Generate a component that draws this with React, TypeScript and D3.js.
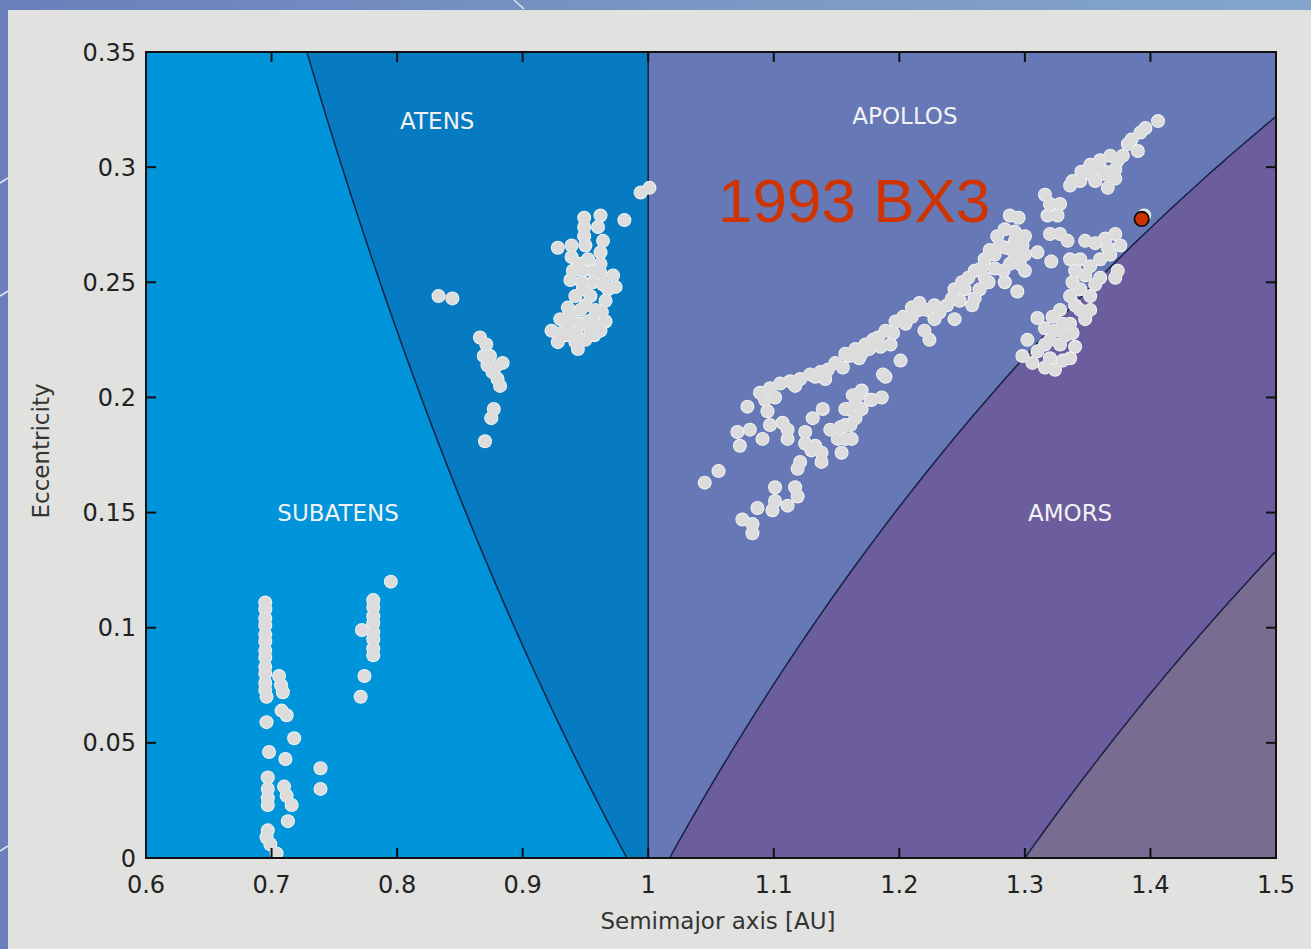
import React from "react";
import * as d3 from "d3";

const xTicks = [0.6, 0.7, 0.8, 0.9, 1, 1.1, 1.2, 1.3, 1.4, 1.5];
const xTickLabels = ["0.6", "0.7", "0.8", "0.9", "1", "1.1", "1.2", "1.3", "1.4", "1.5"];
const yTicks = [0, 0.05, 0.1, 0.15, 0.2, 0.25, 0.3, 0.35];
const yTickLabels = ["0", "0.05", "0.1", "0.15", "0.2", "0.25", "0.3", "0.35"];

// perihelion / aphelion limits (AU) of the NEO groups
const Q_ATEN = 0.983;
const Q_APOLLO = 1.017;
const Q_AMOR = 1.3;

const regionNames = ["SUBATENS", "ATENS", "APOLLOS", "AMORS"];
const regionLabelA = [0.753, 0.832, 1.2045, 1.336];
const regionLabelE = [0.15, 0.32, 0.3225, 0.15];

const highlightName = "1993 BX3";
const highlightA = 1.393;
const highlightE = 0.2775;

const subatensNEOs: [number, number][] = [
  [0.695, 0.111], [0.695, 0.108], [0.695, 0.104], [0.695, 0.101], [0.695, 0.097],
  [0.695, 0.094], [0.695, 0.09], [0.695, 0.087], [0.695, 0.083], [0.695, 0.08],
  [0.695, 0.076], [0.695, 0.073], [0.696, 0.07],
  [0.706, 0.079], [0.7075, 0.075], [0.709, 0.072],
  [0.708, 0.064], [0.712, 0.062], [0.696, 0.059], [0.718, 0.052],
  [0.698, 0.046], [0.711, 0.043], [0.739, 0.039], [0.739, 0.03],
  [0.697, 0.035], [0.697, 0.03], [0.697, 0.026], [0.697, 0.023],
  [0.71, 0.031], [0.712, 0.027], [0.716, 0.023], [0.713, 0.016],
  [0.697, 0.012], [0.696, 0.009], [0.699, 0.006], [0.704, 0.002],
  [0.795, 0.12],
  [0.781, 0.112], [0.781, 0.109], [0.781, 0.105], [0.781, 0.102], [0.781, 0.098],
  [0.781, 0.095], [0.781, 0.091], [0.781, 0.088],
  [0.772, 0.099], [0.774, 0.079], [0.771, 0.07],
];

const atensNEOs: [number, number][] = [
  [0.833, 0.244], [0.844, 0.243],
  [0.866, 0.226], [0.871, 0.223], [0.869, 0.218], [0.872, 0.214], [0.876, 0.211],
  [0.884, 0.215], [0.88, 0.208], [0.882, 0.205], [0.874, 0.218], [0.878, 0.213],
  [0.877, 0.195], [0.875, 0.191], [0.87, 0.181],
  [0.949, 0.278], [0.949, 0.274], [0.949, 0.27], [0.962, 0.279], [0.96, 0.274],
  [0.964, 0.268], [0.962, 0.263], [0.962, 0.258], [0.981, 0.277], [0.928, 0.265],
  [0.939, 0.266], [0.95, 0.266], [0.939, 0.261], [0.952, 0.26], [0.945, 0.258],
  [0.962, 0.254], [0.964, 0.249], [0.966, 0.242], [0.963, 0.237], [0.972, 0.253],
  [0.974, 0.248], [0.968, 0.247], [0.938, 0.251], [0.947, 0.25], [0.942, 0.244],
  [0.954, 0.244], [0.936, 0.239], [0.946, 0.238], [0.958, 0.238], [0.939, 0.234],
  [0.952, 0.233], [0.923, 0.229], [0.93, 0.234], [0.934, 0.227], [0.943, 0.228],
  [0.954, 0.229], [0.942, 0.224], [0.944, 0.221], [0.96, 0.231], [0.938, 0.236],
  [0.962, 0.229], [0.948, 0.255], [0.956, 0.255], [0.94, 0.255], [0.948, 0.247],
  [0.956, 0.25], [0.95, 0.24], [0.956, 0.234], [0.946, 0.232], [0.928, 0.224],
  [0.95, 0.225], [0.957, 0.227], [0.936, 0.231], [0.931, 0.228], [0.966, 0.233],
  [0.994, 0.289], [1.001, 0.291],
];

const apollosNEOs: [number, number][] = [
  [1.089, 0.202], [1.097, 0.204], [1.105, 0.206], [1.113, 0.207], [1.121, 0.208],
  [1.129, 0.21], [1.137, 0.211], [1.143, 0.212], [1.101, 0.2], [1.149, 0.215],
  [1.133, 0.209], [1.141, 0.208], [1.155, 0.213], [1.16, 0.218], [1.17, 0.219],
  [1.176, 0.221], [1.183, 0.226], [1.185, 0.222], [1.195, 0.228], [1.205, 0.232],
  [1.21, 0.235], [1.222, 0.238], [1.228, 0.24], [1.093, 0.199], [1.117, 0.205],
  [1.079, 0.196], [1.095, 0.194], [1.097, 0.188], [1.107, 0.189], [1.111, 0.186],
  [1.071, 0.185], [1.081, 0.186], [1.091, 0.182], [1.073, 0.179], [1.111, 0.182],
  [1.125, 0.185], [1.131, 0.191], [1.139, 0.195], [1.125, 0.18], [1.133, 0.179],
  [1.138, 0.176], [1.138, 0.172], [1.13, 0.177], [1.121, 0.172], [1.119, 0.169],
  [1.154, 0.176], [1.145, 0.186], [1.153, 0.187], [1.161, 0.188], [1.157, 0.195],
  [1.165, 0.197], [1.167, 0.201], [1.17, 0.203], [1.151, 0.182], [1.162, 0.182],
  [1.157, 0.188], [1.165, 0.191], [1.16, 0.195], [1.157, 0.182], [1.17, 0.195],
  [1.178, 0.199], [1.186, 0.2], [1.189, 0.209],
  [1.045, 0.163], [1.056, 0.168],
  [1.101, 0.161], [1.101, 0.155], [1.099, 0.151], [1.087, 0.152], [1.075, 0.147],
  [1.083, 0.145], [1.083, 0.141], [1.117, 0.161], [1.119, 0.157], [1.111, 0.153],
  [1.157, 0.219], [1.165, 0.221], [1.173, 0.223], [1.179, 0.225], [1.168, 0.217],
  [1.189, 0.229], [1.197, 0.233], [1.203, 0.235], [1.21, 0.239], [1.193, 0.223],
  [1.201, 0.216], [1.187, 0.21], [1.163, 0.201], [1.177, 0.199],
  [1.216, 0.241], [1.216, 0.238], [1.22, 0.229], [1.228, 0.234], [1.232, 0.237],
  [1.224, 0.225], [1.244, 0.234], [1.244, 0.247], [1.252, 0.247], [1.248, 0.242],
  [1.258, 0.24], [1.26, 0.255], [1.268, 0.26], [1.272, 0.264], [1.271, 0.25],
  [1.264, 0.247], [1.26, 0.243], [1.238, 0.24], [1.242, 0.243], [1.25, 0.25],
  [1.255, 0.252], [1.265, 0.256], [1.276, 0.262], [1.278, 0.27], [1.285, 0.265],
  [1.292, 0.262], [1.3, 0.262], [1.268, 0.252], [1.276, 0.256],
  [1.288, 0.279], [1.295, 0.278], [1.284, 0.273], [1.292, 0.272], [1.28, 0.266],
  [1.29, 0.264], [1.298, 0.266], [1.296, 0.258], [1.3, 0.255], [1.288, 0.258],
  [1.283, 0.255], [1.284, 0.25], [1.294, 0.246], [1.292, 0.268], [1.3, 0.27],
  [1.31, 0.263], [1.321, 0.259],
  [1.316, 0.288], [1.32, 0.284], [1.326, 0.279], [1.318, 0.279], [1.328, 0.284],
  [1.338, 0.294], [1.336, 0.292], [1.352, 0.297], [1.364, 0.298], [1.372, 0.295],
  [1.32, 0.271], [1.328, 0.271], [1.334, 0.268], [1.348, 0.268], [1.356, 0.267],
  [1.364, 0.269], [1.372, 0.271], [1.368, 0.262], [1.376, 0.266],
  [1.348, 0.253], [1.344, 0.247], [1.352, 0.244], [1.356, 0.249], [1.34, 0.24],
  [1.352, 0.238], [1.348, 0.234], [1.374, 0.255], [1.372, 0.252], [1.328, 0.238],
  [1.31, 0.2345], [1.336, 0.26], [1.34, 0.255], [1.344, 0.26], [1.352, 0.257],
  [1.36, 0.26], [1.36, 0.252], [1.338, 0.25], [1.336, 0.244], [1.344, 0.238],
  [1.336, 0.232], [1.338, 0.228], [1.33, 0.232], [1.322, 0.235], [1.34, 0.222],
  [1.336, 0.217], [1.31, 0.22], [1.306, 0.215], [1.32, 0.225], [1.366, 0.265],
  [1.316, 0.23], [1.324, 0.229], [1.332, 0.227], [1.316, 0.223], [1.328, 0.223],
  [1.32, 0.217], [1.33, 0.216], [1.316, 0.213], [1.324, 0.212], [1.302, 0.225],
  [1.298, 0.218],
  [1.406, 0.32], [1.392, 0.315], [1.396, 0.317], [1.382, 0.31], [1.39, 0.307],
  [1.352, 0.301], [1.36, 0.303], [1.368, 0.305], [1.374, 0.303], [1.356, 0.294],
  [1.364, 0.297], [1.372, 0.299], [1.366, 0.291], [1.345, 0.298], [1.378, 0.305],
  [1.385, 0.312], [1.358, 0.3], [1.344, 0.294],
  [1.395, 0.279],
];

const W = 1311;
const H = 949;

const x = d3.scaleLinear().domain([0.6, 1.5]).range([146, 1276]);
const y = d3.scaleLinear().domain([0, 0.35]).range([858, 52]);

const line = d3
  .line<[number, number]>()
  .x((d) => x(d[0]))
  .y((d) => y(d[1]));

function curve(fn: (a: number) => number, a0: number, a1: number, n = 100): [number, number][] {
  return d3.range(n + 1).map((i) => {
    const a = a0 + ((a1 - a0) * i) / n;
    return [a, fn(a)] as [number, number];
  });
}

const atenCurve = curve((a) => Q_ATEN / a - 1, Q_ATEN / 1.35, Q_ATEN);
const apolloCurve = curve((a) => 1 - Q_APOLLO / a, Q_APOLLO, 1.5);
const amorCurve = curve((a) => 1 - Q_AMOR / a, Q_AMOR, 1.5);

const subatensPoly: [number, number][] = [[0.6, 0], [0.6, 0.35], ...atenCurve];
const atensPoly: [number, number][] = [...atenCurve, [1, 0], [1, 0.35]];
const apollosPoly: [number, number][] = [[1, 0.35], [1, 0], ...apolloCurve, [1.5, 0.35]];
const amorsPoly: [number, number][] = [...apolloCurve, ...[...amorCurve].reverse()];
const beyondPoly: [number, number][] = [...amorCurve, [1.5, 0]];

const allNEOs = [...subatensNEOs, ...atensNEOs, ...apollosNEOs];

const tickFont = "'DejaVu Sans', sans-serif";

export default function App() {
  return (
    <div style={{ position: "absolute", left: 0, top: 0 }}>
      <svg width={W} height={H} style={{ display: "block" }}>
        <defs>
          <linearGradient id="topband" x1="0" x2="1" y1="0" y2="0">
            <stop offset="0" stopColor="#6a7fba" />
            <stop offset="0.6" stopColor="#7b9ac6" />
            <stop offset="1" stopColor="#83a5cb" />
          </linearGradient>
        </defs>
        <rect x={0} y={0} width={W} height={H} fill="#6b80bb" />
        <rect x={0} y={0} width={W} height={10} fill="url(#topband)" />
        <rect x={8} y={10} width={W - 8} height={H - 10} fill="#e1e1df" />
        <g stroke="#f2f4fa" strokeWidth={1.5} fill="none" opacity={0.85}>
          <path d="M0,183 L8,178" />
          <path d="M0,296 L8,291" />
          <path d="M0,851 L8,846" />
          <path d="M514,0 L524,9" />
        </g>

        {/* regions */}
        <path d={line(subatensPoly) + "Z"} fill="#0095da" />
        <path d={line(atensPoly) + "Z"} fill="#077bc1" />
        <path d={line(apollosPoly) + "Z"} fill="#6679b6" />
        <path d={line(amorsPoly) + "Z"} fill="#6c5d9f" />
        <path d={line(beyondPoly) + "Z"} fill="#786c93" />

        {/* boundaries */}
        <g fill="none" stroke="#16213f" strokeWidth={1.5}>
          <path d={line(atenCurve) as string} />
          <path d={line([[1, 0], [1, 0.35]]) as string} />
          <path d={line(apolloCurve) as string} />
          <path d={line(amorCurve) as string} />
        </g>

        {/* region labels */}
        <g fill="#f2f2f4" fontFamily={tickFont} fontSize={23} textAnchor="middle">
          {regionNames.map((n, i) => (
            <text key={n} x={x(regionLabelA[i])} y={y(regionLabelE[i])} dy="0.36em">
              {n}
            </text>
          ))}
        </g>

        {/* NEO points */}
        <g fill="#f4f4f4">
          {allNEOs.map((d, i) => (
            <circle key={"h" + i} cx={x(d[0])} cy={y(d[1])} r={7.0} />
          ))}
        </g>
        <g fill="#dcdcdc">
          {allNEOs.map((d, i) => (
            <circle key={"p" + i} cx={x(d[0])} cy={y(d[1])} r={6.1} />
          ))}
        </g>

        {/* highlighted asteroid */}
        <circle
          cx={x(highlightA)}
          cy={y(highlightE)}
          r={7.2}
          fill="#cc3300"
          stroke="#111"
          strokeWidth={1.8}
        />
        <text
          x={718}
          y={222}
          fill="#cf3300"
          fontFamily="'Liberation Sans', Arial, sans-serif"
          fontSize={62}
        >
          {highlightName}
        </text>

        {/* frame */}
        <rect x={146} y={52} width={1130} height={806} fill="none" stroke="#111" strokeWidth={2} />

        {/* ticks */}
        <g stroke="#111" strokeWidth={2}>
          {xTicks.map((t) => (
            <g key={"xt" + t}>
              <line x1={x(t)} x2={x(t)} y1={858} y2={848} />
              <line x1={x(t)} x2={x(t)} y1={52} y2={62} />
            </g>
          ))}
          {yTicks.map((t) => (
            <g key={"yt" + t}>
              <line x1={146} x2={156} y1={y(t)} y2={y(t)} />
              <line x1={1276} x2={1266} y1={y(t)} y2={y(t)} />
            </g>
          ))}
        </g>

        {/* tick labels */}
        <g fill="#222" fontFamily={tickFont} fontSize={24}>
          {xTicks.map((t, i) => (
            <text key={"xl" + t} x={x(t)} y={893} textAnchor="middle">
              {xTickLabels[i]}
            </text>
          ))}
          {yTicks.map((t, i) => (
            <text key={"yl" + t} x={136} y={y(t)} dy="0.36em" textAnchor="end">
              {yTickLabels[i]}
            </text>
          ))}
        </g>

        {/* axis titles */}
        <text
          x={718}
          y={929}
          textAnchor="middle"
          fill="#333"
          fontFamily={tickFont}
          fontSize={23}
        >
          Semimajor axis [AU]
        </text>
        <text
          transform="translate(49,451) rotate(-90)"
          textAnchor="middle"
          fill="#333"
          fontFamily={tickFont}
          fontSize={23}
        >
          Eccentricity
        </text>
      </svg>
    </div>
  );
}
